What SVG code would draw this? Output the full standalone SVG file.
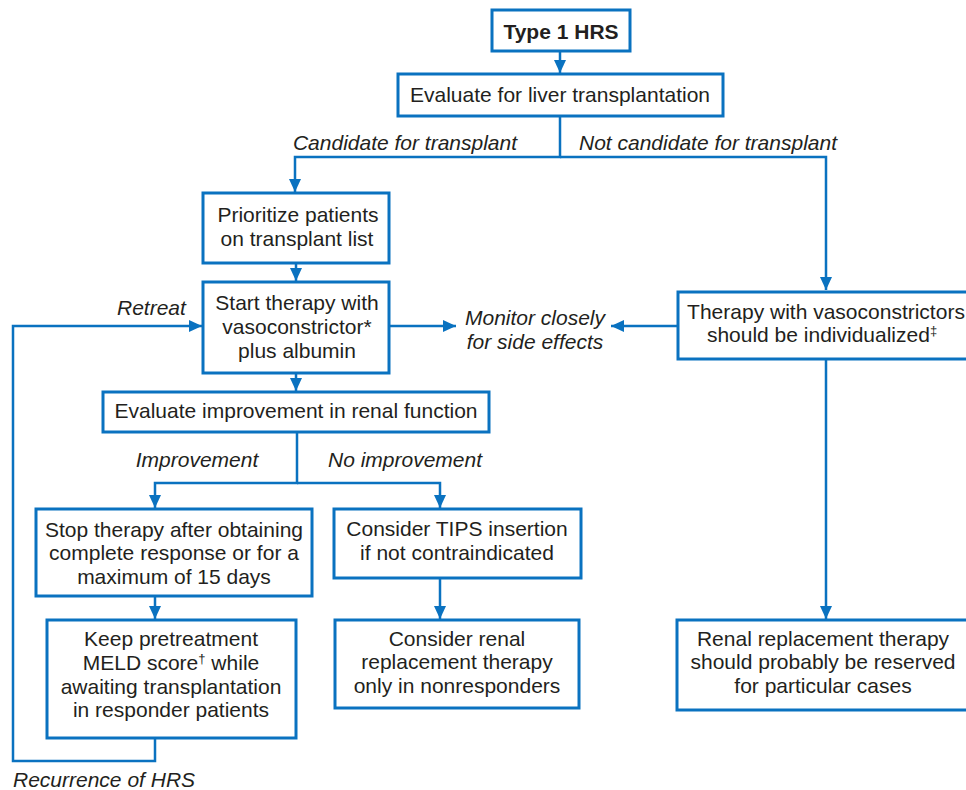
<svg xmlns="http://www.w3.org/2000/svg" width="966" height="790" viewBox="0 0 966 790">
  <style>
    .box { fill: #ffffff; stroke: #0a72c0; stroke-width: 3; }
    .line { fill: none; stroke: #0a72c0; stroke-width: 2.5; }
    .t { font-family: "Liberation Sans", Arial, sans-serif; font-size: 21px; fill: #231f20; text-anchor: middle; }
    .b { font-weight: bold; }
    .i { font-style: italic; }
    .l { text-anchor: start; }
    .sup { font-size: 13px; }
  </style>
  <defs>
    <marker id="arrow" markerUnits="userSpaceOnUse" markerWidth="14" markerHeight="12" refX="13" refY="6" orient="auto">
      <path d="M0,0 L13,6 L0,12 Z" fill="#0a72c0"/>
    </marker>
  </defs>

  <rect width="966" height="790" fill="#ffffff"/>

  <!-- connectors -->
  <g id="connectors">
    <path class="line" d="M560,52 V73" marker-end="url(#arrow)"/>
    <path class="line" d="M560,117 V157 H295 V192" marker-end="url(#arrow)"/>
    <path class="line" d="M560,157 H826 V290" marker-end="url(#arrow)"/>
    <path class="line" d="M296,264 V281" marker-end="url(#arrow)"/>
    <path class="line" d="M389,326 H456" marker-end="url(#arrow)"/>
    <path class="line" d="M678,326 H611" marker-end="url(#arrow)"/>
    <path class="line" d="M296,374 V391" marker-end="url(#arrow)"/>
    <path class="line" d="M297,433 V483 H155 V508" marker-end="url(#arrow)"/>
    <path class="line" d="M297,483 H440 V508" marker-end="url(#arrow)"/>
    <path class="line" d="M155,597 V619" marker-end="url(#arrow)"/>
    <path class="line" d="M440,579 V619" marker-end="url(#arrow)"/>
    <path class="line" d="M826,360 V619" marker-end="url(#arrow)"/>
    <path class="line" d="M155,739 V761 H13 V326 H202" marker-end="url(#arrow)"/>
  </g>

  <!-- edge labels -->
  <g id="labels">
    <text class="t i" x="405" y="150">Candidate for transplant</text>
    <text class="t i l" x="579" y="150">Not candidate for transplant</text>
    <text class="t i l" x="117" y="315">Retreat</text>
    <text class="t i" x="197" y="467">Improvement</text>
    <text class="t i" x="405" y="467">No improvement</text>
    <text class="t i l" x="13" y="787">Recurrence of HRS</text>
  </g>

  <g id="type1">
    <rect class="box" x="492" y="10" width="138" height="41"/>
    <text class="t b" x="561" y="39">Type 1 HRS</text>
  </g>

  <g id="evaluate">
    <rect class="box" x="398" y="74" width="325" height="42"/>
    <text class="t" x="560" y="102">Evaluate for liver transplantation</text>
  </g>

  <g id="prioritize">
    <rect class="box" x="203" y="193" width="186" height="70"/>
    <text class="t" x="298" y="222">Prioritize patients</text>
    <text class="t" x="297" y="246">on transplant list</text>
  </g>

  <g id="start">
    <rect class="box" x="203" y="282" width="186" height="91"/>
    <text class="t" x="297" y="310">Start therapy with</text>
    <text class="t" x="297" y="334">vasoconstrictor*</text>
    <text class="t" x="297" y="358">plus albumin</text>
  </g>

  <g id="monitor">
    <text class="t i" x="535" y="325">Monitor closely</text>
    <text class="t i" x="535" y="349">for side effects</text>
  </g>

  <g id="individualized">
    <rect class="box" x="678" y="292" width="296" height="67"/>
    <text class="t" x="826" y="319">Therapy with vasoconstrictors</text>
    <text class="t" x="822" y="342">should be individualized<tspan class="sup" dy="-7">‡</tspan></text>
  </g>

  <g id="evalrenal">
    <rect class="box" x="103" y="392" width="386" height="40"/>
    <text class="t" x="296" y="418">Evaluate improvement in renal function</text>
  </g>

  <g id="stop">
    <rect class="box" x="36" y="509" width="276" height="87"/>
    <text class="t" x="174" y="537">Stop therapy after obtaining</text>
    <text class="t" x="174" y="560">complete response or for a</text>
    <text class="t" x="174" y="584">maximum of 15 days</text>
  </g>

  <g id="tips">
    <rect class="box" x="334" y="509" width="247" height="69"/>
    <text class="t" x="457" y="536">Consider TIPS insertion</text>
    <text class="t" x="457" y="560">if not contraindicated</text>
  </g>

  <g id="keep">
    <rect class="box" x="47" y="620" width="249" height="118"/>
    <text class="t" x="171" y="646">Keep pretreatment</text>
    <text class="t" x="171" y="670">MELD score<tspan class="sup" dy="-7">†</tspan><tspan dy="7"> while</tspan></text>
    <text class="t" x="171" y="694">awaiting transplantation</text>
    <text class="t" x="171" y="717">in responder patients</text>
  </g>

  <g id="renal">
    <rect class="box" x="335" y="620" width="244" height="88"/>
    <text class="t" x="457" y="646">Consider renal</text>
    <text class="t" x="457" y="669">replacement therapy</text>
    <text class="t" x="457" y="693">only in nonresponders</text>
  </g>

  <g id="rrt">
    <rect class="box" x="677" y="620" width="296" height="90"/>
    <text class="t" x="823" y="646">Renal replacement therapy</text>
    <text class="t" x="823" y="669">should probably be reserved</text>
    <text class="t" x="823" y="693">for particular cases</text>
  </g>
</svg>
